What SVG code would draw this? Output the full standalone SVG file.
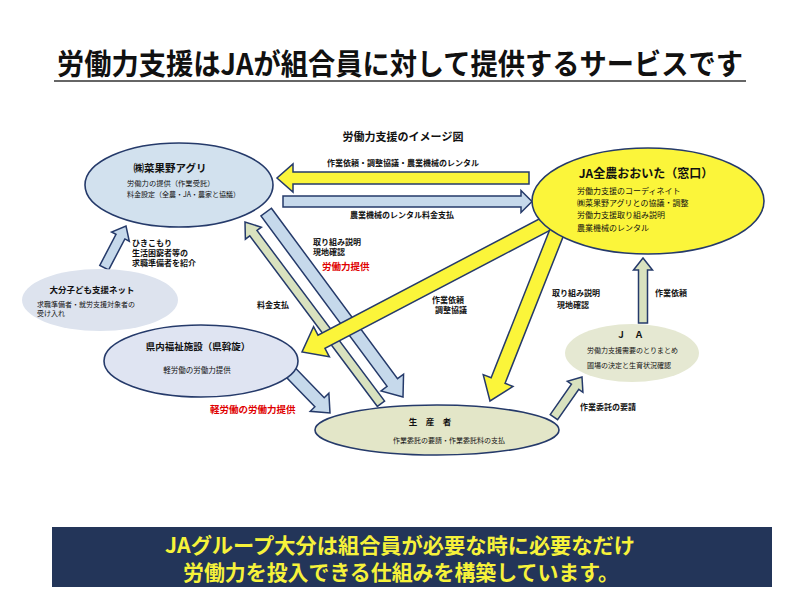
<svg xmlns="http://www.w3.org/2000/svg" width="800" height="600" viewBox="0 0 800 600">
<style>
text{font-family:"Noto Sans CJK JP","Noto Sans",sans-serif;fill:#111}
.b{font-weight:bold}
.c{text-anchor:middle}
.red{fill:#e00000;font-weight:bold}
.ya{fill:#fbf53a;stroke:#253a6a;stroke-width:1.5}
.ba{fill:#c6d9eb;stroke:#253a6a;stroke-width:1.5}
.ga{fill:#d9e2bf;stroke:#253a6a;stroke-width:1.5}
.node{stroke:#253a6a;stroke-width:1.6}
.lbl{font-weight:bold;font-size:8px}
</style>
<rect width="800" height="600" fill="#fff"/>
<g id="title">
<text x="400" y="75" class="b c" font-size="29" textLength="686" lengthAdjust="spacingAndGlyphs">労働力支援はJAが組合員に対して提供するサービスです</text>
<line x1="54" y1="81" x2="746" y2="81" stroke="#333" stroke-width="1.5"/>
</g>
<g id="connectors">
<polygon class="ya" points="-252,-6 -16,-6 -16,-14 0,0 -16,14 -16,6 -252,6" transform="translate(277,178) rotate(180)"/>
<polygon class="ba" points="-249,-5.5 -11,-5.5 -11,-11 0,0 -11,11 -11,5.5 -249,5.5" transform="translate(532,201.5)"/>
<polygon class="ba" points="-230,-6.5 -18,-6.5 -18,-14 0,0 -18,14 -18,6.5 -230,6.5" transform="translate(403,397) rotate(53.5)"/>
<polygon class="ga" points="-227,-4.5 -14,-4.5 -14,-10 0,0 -14,10 -14,4.5 -227,4.5" transform="translate(245,222) rotate(-126.8)"/>
<polygon class="ya" points="-290,-7.5 -22,-7.5 -22,-17 0,0 -22,17 -22,7.5 -290,7.5" transform="translate(302,352) rotate(152.3)"/>
<polygon class="ya" points="-190,-7.5 -22,-7.5 -22,-16 0,0 -22,16 -22,7.5 -190,7.5" transform="translate(490,401) rotate(111.6)"/>
<polygon class="ba" points="-56,-6.5 -15,-6.5 -15,-13 0,0 -15,13 -15,6.5 -56,6.5" transform="translate(330,413) rotate(45.8)"/>
<polygon class="ba" points="-47,-5 -12,-5 -12,-10 0,0 -12,10 -12,5 -47,5" transform="translate(126,226) rotate(-62.4)"/>
<polygon class="ga" points="-65,-4.5 -12,-4.5 -12,-9.5 0,0 -12,9.5 -12,4.5 -65,4.5" transform="translate(643,258) rotate(-90)"/>
<polygon class="ga" points="-49,-4.5 -12,-4.5 -12,-9.5 0,0 -12,9.5 -12,4.5 -49,4.5" transform="translate(582,377) rotate(-55)"/>
</g>
<g id="node-agri">
<ellipse class="node" cx="179" cy="185" rx="94" ry="42" fill="#d2e1ee"/>
<text x="170" y="172" class="b c" font-size="10.5">㈱菜果野アグリ</text>
<text x="127" y="186" font-size="7.3">労働力の提供（作業受託）</text>
<text x="127" y="197" font-size="7">料金設定（全農・JA・農家と協議）</text>
</g>
<g id="node-zennoh">
<ellipse class="node" cx="648" cy="201" rx="116" ry="53" fill="#fbf53a"/>
<text x="646" y="178" class="b c" font-size="12">JA全農おおいた（窓口）</text>
<text x="577" y="194" font-size="8">労働力支援のコーディネイト</text>
<text x="577" y="206" font-size="8">㈱菜果野アグリとの協議・調整</text>
<text x="577" y="218" font-size="8">労働力支援取り組み説明</text>
<text x="577" y="231" font-size="8">農業機械のレンタル</text>
</g>
<g id="node-kodomo">
<ellipse cx="100" cy="300" rx="78" ry="31" fill="#dde3ee"/>
<text x="92" y="293" class="b c" font-size="8.5">大分子ども支援ネット</text>
<text x="37" y="307" font-size="7">求職準備者・就労支援対象者の</text>
<text x="37" y="316" font-size="7">受け入れ</text>
</g>
<g id="node-fukushi">
<ellipse class="node" cx="201" cy="361" rx="97" ry="36" fill="#dfe4f2"/>
<text x="198" y="350" class="b c" font-size="9.5">県内福祉施設（県斡旋）</text>
<text x="197" y="373" class="c" font-size="7.5">軽労働の労働力提供</text>
</g>
<g id="node-ja">
<ellipse cx="632" cy="353" rx="67" ry="29" fill="#e5e8d2"/>
<text x="630" y="338" class="b c" font-size="9">Ｊ　Ａ</text>
<text x="587" y="353" font-size="7">労働力支援需要のとりまとめ</text>
<text x="587" y="368" font-size="7">圃場の決定と生育状況確認</text>
</g>
<g id="node-seisansha">
<ellipse class="node" cx="437" cy="430" rx="122" ry="25" fill="#e3e6c8"/>
<text x="430" y="425" class="b c" font-size="8.5">生　産　者</text>
<text x="449" y="443" class="c" font-size="7">作業委託の要請・作業委託料の支払</text>
</g>
<g id="labels">
<text x="403" y="141" class="b c" font-size="11">労働力支援のイメージ図</text>
<text x="403" y="166" class="lbl c">作業依頼・調整協議・農業機械のレンタル</text>
<text x="402" y="218" class="lbl c" font-size="7.5">農業機械のレンタル料金支払</text>
<text x="313" y="245" class="lbl">取り組み説明</text>
<text x="313" y="255" class="lbl">現地確認</text>
<text x="322" y="270" class="red" font-size="9.5">労働力提供</text>
<text x="257" y="308" class="lbl">料金支払</text>
<text x="432" y="303" class="lbl">作業依頼</text>
<text x="435" y="313" class="lbl">調整協議</text>
<text x="552" y="296" class="lbl">取り組み説明</text>
<text x="557" y="308" class="lbl">現地確認</text>
<text x="655" y="296" class="lbl">作業依頼</text>
<text x="580" y="410" class="lbl">作業委託の要請</text>
<text x="132" y="246" class="lbl" font-size="6.5">ひきこもり</text>
<text x="132" y="256" class="lbl" font-size="6.5">生活困窮者等の</text>
<text x="132" y="266" class="lbl" font-size="6.5">求職準備者を紹介</text>
<text x="210" y="413" class="red" font-size="9.5">軽労働の労働力提供</text>
</g>
<g id="banner">
<rect x="52" y="527" width="720" height="60" fill="#233559"/>
<text x="400" y="553" class="b c" font-size="21" style="fill:#f6f23a" textLength="470" lengthAdjust="spacingAndGlyphs">JAグループ大分は組合員が必要な時に必要なだけ</text>
<text x="401" y="580" class="b c" font-size="21" style="fill:#f6f23a" textLength="436" lengthAdjust="spacingAndGlyphs">労働力を投入できる仕組みを構築しています。</text>
</g>
</svg>
